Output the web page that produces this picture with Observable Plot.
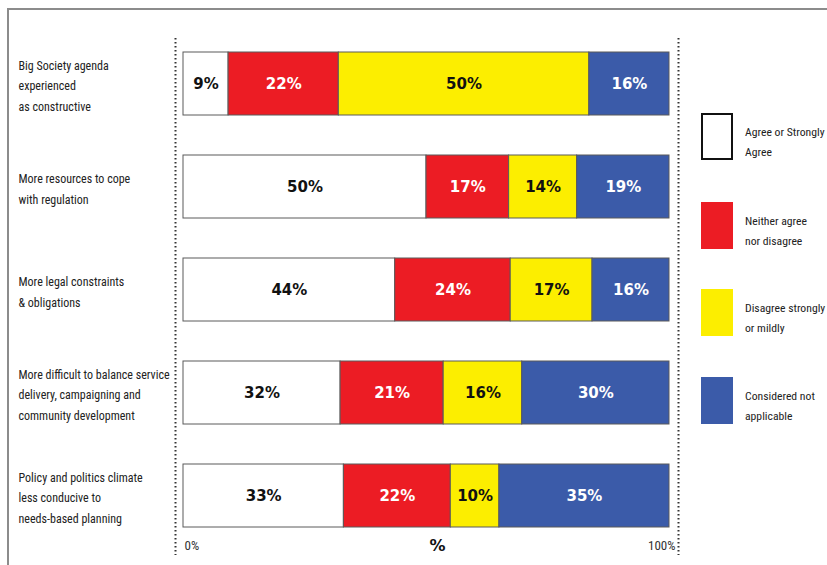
<!DOCTYPE html>
<html>
<head>
<meta charset="utf-8">
<script src="https://cdn.jsdelivr.net/npm/d3@7"></script>
<script src="https://cdn.jsdelivr.net/npm/@observablehq/plot@0.6"></script>
<style>
  html, body { margin: 0; padding: 0; background: #fff; }
  #wrap { position: relative; width: 827px; height: 565px; overflow: hidden; background: #fff; }
  #frame { position: absolute; left: 7px; top: 8px; width: 900px; height: 700px; border: 2px solid #8c8c8c; box-sizing: border-box; }
  #chart { position: absolute; left: 0; top: 0; }
  #legend { position: absolute; left: 701px; top: 113px; font-family: "Liberation Sans Narrow", "Roboto Condensed", "Noto Sans", sans-serif; font-size: 11.7px; color: #222; }
  .item { position: absolute; left: 0; display: flex; align-items: flex-start; white-space: nowrap; }
  .sw { width: 32px; height: 47px; box-sizing: border-box; flex: none; }
  .lab { margin-left: 12px; line-height: 20px; padding-top: 9px; }
</style>
</head>
<body>
<div id="wrap">
  <div id="frame"></div>
  <div id="chart"></div>
  <div id="legend"></div>
</div>
<script>
const categories = [
  "Big Society agenda\nexperienced\nas constructive",
  "More resources to cope\nwith regulation",
  "More legal constraints\n& obligations",
  "More difficult to balance service\ndelivery, campaigning and\ncommunity development",
  "Policy and politics climate\nless conducive to\nneeds-based planning"
];
const series = [
  "Agree or Strongly Agree",
  "Neither agree nor disagree",
  "Disagree strongly or mildly",
  "Considered not applicable"
];
const legendLabels = [
  "Agree or Strongly<br>Agree",
  "Neither agree<br>nor disagree",
  "Disagree strongly<br>or mildly",
  "Considered not<br>applicable"
];
const colors = ["#ffffff", "#ec1c24", "#fcee00", "#3b5ba9"];
const agree = [9, 50, 44, 32, 33];
const neither = [22, 17, 24, 21, 22];
const disagree = [50, 14, 17, 16, 10];
const notApplicable = [16, 19, 16, 30, 35];
const tickValues = [0, 1];
const tickLabels = ["0%", "100%"];

const seriesValues = [agree, neither, disagree, notApplicable];
const table = [];
categories.forEach((c, i) => {
  series.forEach((s, j) => {
    table.push({category: c, series: s, value: seriesValues[j][i], dark: j === 0 || j === 2});
  });
});

const labelFont = '"Liberation Sans Narrow", "Roboto Condensed", "Noto Sans", sans-serif';
const valueFont = '"DejaVu Sans", sans-serif';

const stackOpts = {x: "value", y: "category", z: "series", order: series, offset: "normalize"};

const plot = Plot.plot({
  width: 827,
  height: 565,
  marginLeft: 183,
  marginRight: 158,
  marginTop: 38,
  marginBottom: 24,
  style: {background: "transparent", overflow: "visible"},
  x: {domain: [0, 1], axis: null},
  y: {domain: categories, axis: null, padding: 0.386, paddingOuter: 0.123},
  color: {domain: series, range: colors},
  marks: [
    Plot.ruleX([tickValues[0]], {dx: -8, insetTop: 0, insetBottom: -14, stroke: "#333", strokeWidth: 2, strokeDasharray: "1.6,2.4"}),
    Plot.ruleX([tickValues[1]], {dx: 9, insetTop: 0, insetBottom: -14, stroke: "#333", strokeWidth: 2, strokeDasharray: "1.6,2.4"}),
    Plot.barX(table, Plot.stackX({...stackOpts, fill: "series", stroke: "#5a5a5a", strokeWidth: 1})),
    Plot.text(table, Plot.stackX({...stackOpts, text: d => d.dark ? d.value + "%" : null, fill: "#111", fontFamily: valueFont, fontWeight: "bold", fontSize: 15})),
    Plot.text(table, Plot.stackX({...stackOpts, text: d => d.dark ? null : d.value + "%", fill: "#fff", fontFamily: valueFont, fontWeight: "bold", fontSize: 15})),
    Plot.text(categories, {y: d => d, text: d => d, frameAnchor: "left", textAnchor: "start", dx: -165, lineHeight: 1.68, fontSize: 12, fontFamily: labelFont, fill: "#222"}),
    Plot.text([tickLabels[0]], {x: () => tickValues[0], text: d => d, frameAnchor: "bottom", dy: 8, dx: 1, textAnchor: "start", fontSize: 13, fontFamily: labelFont, fill: "#333"}),
    Plot.text([tickLabels[1]], {x: () => tickValues[1], text: d => d, frameAnchor: "bottom", dy: 8, dx: 6, textAnchor: "end", fontSize: 13, fontFamily: labelFont, fill: "#333"}),
    Plot.text(["%"], {text: d => d, frameAnchor: "bottom", dy: 9, dx: 11, fontSize: 16, fontWeight: "bold", fontFamily: valueFont, fill: "#111"})
  ]
});
document.getElementById("chart").appendChild(plot);

const legend = document.getElementById("legend");
const tops = [0, 89, 176, 264];
series.forEach((s, i) => {
  const item = document.createElement("div");
  item.className = "item";
  item.style.top = tops[i] + "px";
  const sw = document.createElement("div");
  sw.className = "sw";
  sw.style.background = colors[i];
  if (i === 0) sw.style.border = "2px solid #111";
  const lab = document.createElement("div");
  lab.className = "lab";
  lab.innerHTML = legendLabels[i];
  item.appendChild(sw);
  item.appendChild(lab);
  legend.appendChild(item);
});
</script>
</body>
</html>
